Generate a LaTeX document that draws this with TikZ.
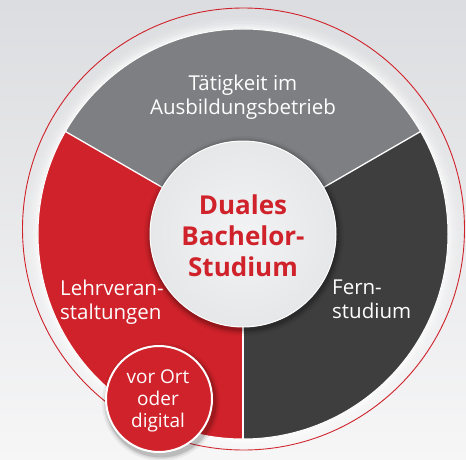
\documentclass[tikz,border=0pt]{standalone}
\usepackage{fontspec}
\setmainfont{Open Sans}
\usetikzlibrary{calc}
\definecolor{bgtop}{HTML}{DCDDE0}
\definecolor{bgbot}{HTML}{F6F6F7}
\definecolor{segred}{HTML}{D0222A}
\definecolor{seggray}{HTML}{7E7F83}
\definecolor{segdark}{HTML}{3E3E3F}
\definecolor{innerfill}{HTML}{E6E7E9}
\tikzset{
  segtext/.style={text=white, font=\fontsize{20.5}{24}\selectfont, inner sep=0pt},
  smalltext/.style={text=white, font=\fontsize{19}{22}\selectfont, inner sep=0pt},
  centertext/.style={text=segred, font=\bfseries\fontsize{26}{31}\selectfont, align=center, inner sep=0pt},
}
\begin{document}
\begin{tikzpicture}[x=1pt,y=1pt]
\useasboundingbox (0,0) rectangle (466,459);
\clip (0,0) rectangle (466,459);
\shade[top color=bgtop, bottom color=bgbot] (0,0) rectangle (466,459);
\coordinate (C) at (243,225);
% outer red ring
\draw[segred, line width=0.9pt] (243.5,230) circle[radius=221pt];
% glow around pie
\foreach \r/\o in {216/0.10,213/0.15,210/0.22,208/0.3}
  \fill[white, opacity=\o] (C) circle[radius=\r pt];
% sectors
\fill[seggray] (C) -- ++(30:205pt) arc[start angle=30, end angle=150, radius=205pt] -- cycle;
\fill[segred] (C) -- ++(150:205pt) arc[start angle=150, end angle=270, radius=205pt] -- cycle;
\fill[segdark] (C) -- ++(270:205pt) arc[start angle=270, end angle=390, radius=205pt] -- cycle;
\draw[white, line width=1pt] (C) circle[radius=205pt];
\draw[white, line width=1.3pt] (C) -- ++(30:205pt);
\draw[white, line width=1.3pt] (C) -- ++(150:205pt);
\draw[white, line width=1.3pt] (C) -- ++(270:205pt);
% inner circle with shadow
\foreach \r/\o in {100/0.04,98/0.06,96.5/0.09,95/0.12}
  \fill[black, opacity=\o] ($(C)+(1,-2)$) circle[radius=\r pt];
\node[circle, minimum size=186pt, inner sep=0pt, draw=white, line width=1pt, inner color=white!50!innerfill, outer color=innerfill] (center) at (C) {};
\node[centertext] (ctext) at (243,223) {Duales\\Bachelor-\\Studium};
% labels
\node[segtext, align=center] (top) at (243,362) {Tätigkeit im\\Ausbildungsbetrieb};
\node[segtext, align=left, anchor=north west] (left) at (60,179) {Lehrveran-\\staltungen};
\node[segtext, align=left, anchor=north west] (right) at (332,179) {Fern-\\studium};
% small circle
\foreach \r/\o in {59/0.05,57/0.08,55.5/0.12}
  \fill[black, opacity=\o] (161,57) circle[radius=\r pt];
\node[circle, minimum size=106pt, inner sep=0pt, fill=segred, draw=white, line width=2pt] (small) at (159,60) {};
\node[smalltext, align=center] (stext) at (158,58) {vor Ort\\oder\\digital};
\end{tikzpicture}
\end{document}
